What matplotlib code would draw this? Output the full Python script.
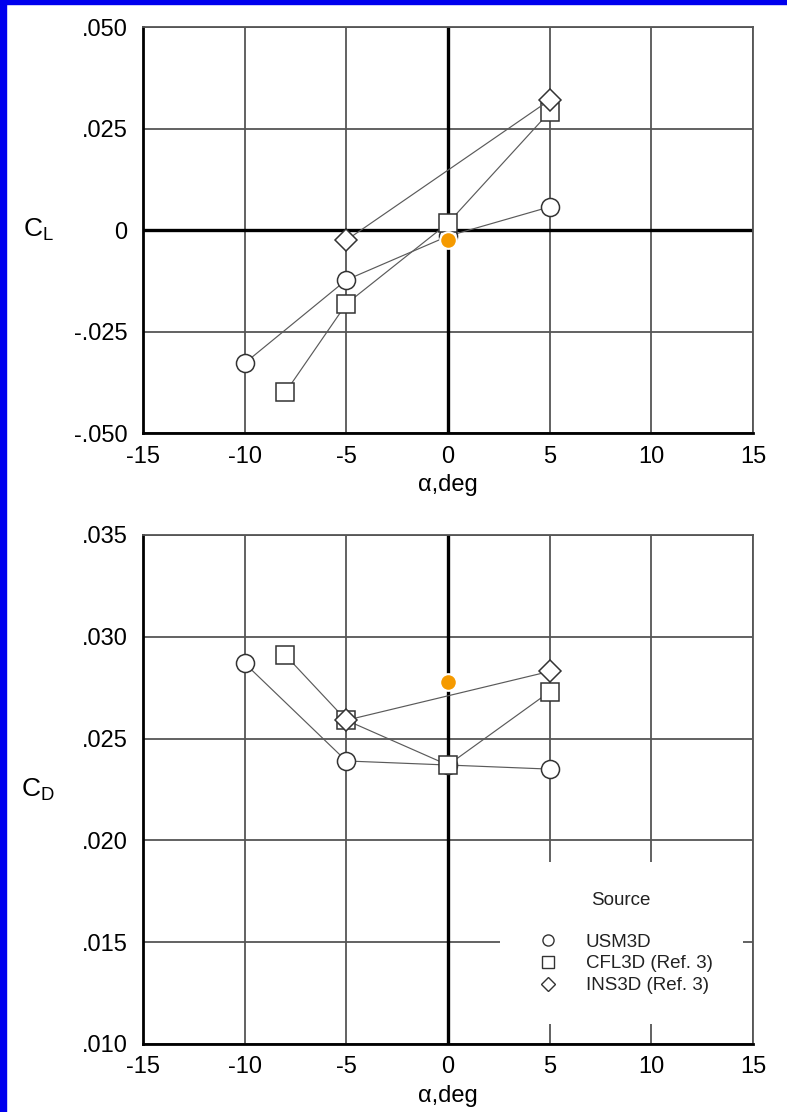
#!/usr/bin/env python3
"""Lift and drag coefficient versus angle of attack for three flow solvers."""
import matplotlib
matplotlib.use("Agg")
import matplotlib.pyplot as plt
from matplotlib.lines import Line2D
from matplotlib.patches import Rectangle
from matplotlib.ticker import FuncFormatter

plt.rcParams["font.family"] = ["Liberation Sans", "DejaVu Sans"]
plt.rcParams["mathtext.default"] = "regular"
plt.rcParams["axes.unicode_minus"] = False

# lift coefficient
alpha_usm_cl = [-10, -5, 0, 5]
cl_usm = [-0.0328, -0.0123, -0.0015, 0.0057]
alpha_cfl_cl = [-8, -5, 0, 5]
cl_cfl = [-0.0400, -0.0182, 0.0017, 0.0291]
alpha_ins_cl = [-5, 5]
cl_ins = [-0.0025, 0.0320]

# drag coefficient
alpha_usm_cd = [-10, -5, 0, 5]
cd_usm = [0.0287, 0.0239, 0.0237, 0.0235]
alpha_cfl_cd = [-8, -5, 0, 5]
cd_cfl = [0.0291, 0.0259, 0.0237, 0.0273]
alpha_ins_cd = [-5, 5]
cd_ins = [0.0259, 0.0283]

# highlighted points
hl_alpha = [0]
hl_cl = [-0.0024]
hl_cd = [0.0278]

sources = ["USM3D", "CFL3D (Ref. 3)", "INS3D (Ref. 3)"]
markers = ["o", "s", "D"]
x_ticks = [-15, -10, -5, 0, 5, 10, 15]
cl_ticks = [-0.050, -0.025, 0, 0.025, 0.050]
cd_ticks = [0.010, 0.015, 0.020, 0.025, 0.030, 0.035]

GRID = "#555555"
LINE = "#5a5a5a"
EDGE = "#333333"


def coef_fmt(v, pos):
    if abs(v) < 1e-12:
        return "0"
    return f"{v:.3f}".replace("0.", ".", 1)


def style_axes(ax, yticks, ylabel, zero_y):
    ax.set_xlim(-15, 15)
    ax.set_ylim(yticks[0], yticks[-1])
    ax.set_xticks(x_ticks)
    ax.set_yticks(yticks)
    ax.yaxis.set_major_formatter(FuncFormatter(coef_fmt))
    ax.grid(True, color=GRID, lw=1.3, zorder=0)
    ax.set_axisbelow(True)
    ax.axvline(0, color="black", lw=2.4, zorder=1)
    if zero_y:
        ax.axhline(0, color="black", lw=2.4, zorder=1)
    for side in ("left", "bottom"):
        ax.spines[side].set_color("black")
        ax.spines[side].set_linewidth(2.0)
    for side in ("top", "right"):
        ax.spines[side].set_color(GRID)
        ax.spines[side].set_linewidth(1.3)
    ax.tick_params(length=0, labelsize=17, pad=11)
    ax.tick_params(axis="x", pad=9)
    ax.set_xlabel("α,deg", fontsize=17, labelpad=5)
    ax.set_ylabel(ylabel, fontsize=19, rotation=0, va="center", ha="center")
    ax.yaxis.set_label_coords(-0.172, 0.5)


def series(ax, x, y, marker):
    ax.plot(x, y, color=LINE, lw=0.85, marker=marker, ms=13 if marker != "D" else 11.5,
            mfc="white", mec=EDGE, mew=1.1, zorder=3)


fig = plt.figure(figsize=(7.87, 11.12), dpi=100)
ax1 = fig.add_axes([0.1817, 0.6106, 0.7751, 0.3651])
ax2 = fig.add_axes([0.1817, 0.0612, 0.7751, 0.4577])

series(ax1, alpha_usm_cl, cl_usm, "o")
series(ax1, alpha_cfl_cl, cl_cfl, "s")
series(ax1, alpha_ins_cl, cl_ins, "D")
ax1.plot(hl_alpha, hl_cl, "o", color="#f59a00", ms=12, mec="white", mew=1.5, zorder=5)
style_axes(ax1, cl_ticks, "C$_L$", True)

series(ax2, alpha_usm_cd, cd_usm, "o")
series(ax2, alpha_cfl_cd, cd_cfl, "s")
series(ax2, alpha_ins_cd, cd_ins, "D")
ax2.plot(hl_alpha, hl_cd, "o", color="#f59a00", ms=12, mec="white", mew=1.5, zorder=5)
style_axes(ax2, cd_ticks, "C$_D$", False)

handles = [Line2D([], [], ls="none", marker=m, ms=8 if m != "D" else 7, mfc="white",
                  mec=EDGE, mew=1.0) for m in markers]
leg = ax2.legend(handles, sources, title="Source\n", loc="center",
                 bbox_to_anchor=(0.784, 0.198), fontsize=13.5, title_fontsize=13.5,
                 frameon=True, fancybox=False, borderpad=1.6, labelspacing=0.25,
                 handletextpad=1.0, borderaxespad=0)
leg.get_frame().set_facecolor("white")
leg.get_frame().set_edgecolor("none")
leg.get_frame().set_alpha(1)
leg.set_zorder(6)
for t in leg.get_texts():
    t.set_color("#222222")
leg.get_title().set_color("#222222")

# blue slide frame
fig.patches.append(Rectangle((0, 0), 6 / 787, 1, transform=fig.transFigure,
                             color="#0000ee", zorder=10))
fig.patches.append(Rectangle((0, 1 - 4 / 1112), 1, 4 / 1112, transform=fig.transFigure,
                             color="#0000ee", zorder=10))

fig.savefig("out.png", dpi=100, facecolor="white")
